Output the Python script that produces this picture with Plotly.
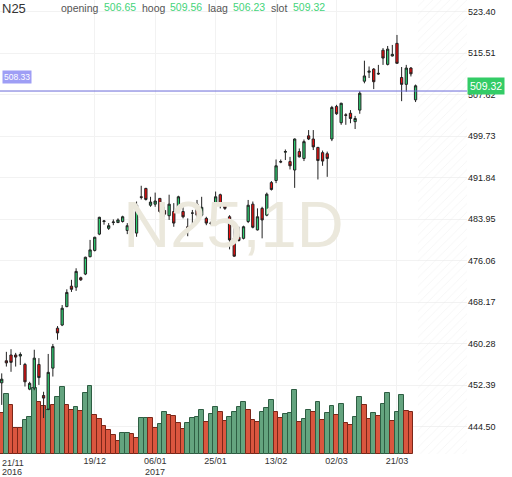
import plotly.graph_objects as go
import pandas as pd

symbol = "N25"
interval = "1D"

opens = [452.8, 457.0, 458.1, 458.1, 457.9, 456.3, 451.6, 451.8, 456.3, 450.4,
         447.8, 455.6, 463.2, 463.8, 467.3, 471.2, 471.0, 472.8, 473.5, 476.8,
         478.0, 481.1, 483.5, 482.2, 483.3, 483.3, 483.5, 481.8, 482.4, 481.3,
         488.2, 489.8, 486.6, 486.8, 487.9, 485.6, 484.6, 485.4, 485.8, 485.4,
         482.5, 485.1, 486.8, 484.7, 484.1, 483.25, 486.6, 488.6, 486.6, 484.4,
         480.3, 480.5, 480.3, 483.5, 486.8, 481.9, 486.0, 484.7, 490.9, 491.3,
         494.8, 496.7, 494.9, 493.3, 496.8, 495.5, 499.8, 499.2, 497.6, 496.6,
         496.4, 499.2, 505.4, 502.3, 503.8, 504.1, 502.5, 504.7, 510.2, 511.9,
         512.5, 511.7, 516.1, 513.4, 515.0, 517.4, 510.9, 509.6, 512.7, 506.65]
highs = [454.6, 458.7, 459.2, 458.5, 458.6, 456.6, 453.0, 459.1, 457.5, 451.1,
         458.3, 460.2, 463.6, 467.6, 470.6, 472.4, 474.6, 473.0, 476.8, 480.0,
         480.6, 484.4, 483.8, 483.2, 483.9, 484.1, 484.6, 483.2, 483.8, 487.3,
         490.3, 489.9, 488.2, 489.0, 487.9, 486.3, 488.6, 487.0, 488.4, 486.3,
         484.1, 485.7, 487.6, 488.2, 484.4, 483.5, 489.2, 488.8, 487.0, 484.7,
         483.0, 482.5, 482.7, 487.6, 487.3, 486.0, 486.3, 489.0, 491.2, 495.3,
         495.3, 497.2, 495.8, 499.3, 497.4, 499.1, 500.9, 500.9, 497.7, 497.0,
         496.8, 505.5, 505.7, 506.1, 504.1, 504.7, 503.6, 508.3, 514.1, 513.0,
         512.7, 513.3, 516.5, 516.9, 517.1, 519.0, 512.9, 513.3, 512.9, 509.56]
lows = [448.6, 455.9, 454.9, 455.9, 456.2, 452.1, 451.4, 451.4, 452.4, 446.1,
        447.6, 454.0, 461.0, 463.6, 467.2, 470.1, 470.3, 472.2, 473.3, 476.7,
        477.8, 480.9, 482.9, 481.9, 482.8, 483.2, 483.3, 481.1, 480.7, 480.6,
        487.7, 487.5, 486.3, 486.3, 485.1, 484.4, 483.8, 482.5, 485.7, 484.1,
        480.7, 482.2, 483.2, 484.4, 482.8, 482.9, 486.5, 486.0, 485.7, 478.2,
        476.8, 479.7, 480.1, 483.2, 482.2, 481.8, 480.3, 484.5, 489.4, 490.8,
        494.6, 495.2, 493.4, 489.9, 495.7, 495.0, 499.0, 497.1, 491.5, 494.1,
        492.0, 498.8, 503.8, 501.9, 501.9, 502.2, 501.1, 504.0, 509.8, 510.8,
        508.7, 511.4, 513.3, 513.2, 514.9, 513.6, 506.4, 508.2, 511.1, 506.23]
closes = [453.5, 456.6, 456.7, 457.7, 458.2, 453.0, 452.7, 457.5, 453.8, 449.9,
          454.8, 459.7, 462.3, 467.0, 470.0, 470.6, 474.0, 472.4, 476.7, 478.1,
          480.5, 484.3, 483.6, 482.7, 483.4, 483.8, 484.4, 482.7, 483.5, 486.6,
          488.1, 487.7, 487.2, 487.4, 485.4, 484.9, 486.8, 483.2, 488.2, 484.4,
          482.0, 485.1, 484.7, 486.2, 483.2, 483.1, 488.2, 486.6, 486.0, 480.0,
          476.9, 479.9, 482.5, 486.6, 482.4, 484.4, 483.8, 488.7, 489.6, 494.1,
          494.9, 496.8, 494.1, 499.2, 495.8, 498.7, 499.2, 497.7, 495.1, 495.0,
          495.5, 505.2, 504.0, 506.0, 503.7, 503.1, 503.1, 507.9, 511.2, 512.1,
          510.1, 511.6, 514.6, 516.3, 515.3, 513.6, 509.6, 512.7, 511.6, 509.32]
volumes = [40.7, 60.0, 49.0, 26.3, 26.3, 34.0, 37.3, 66.3, 52.3, 48.0,
           44.0, 49.0, 56.7, 66.7, 49.0, 44.0, 47.3, 43.0, 60.7, 68.3,
           39.0, 34.7, 28.0, 24.0, 19.0, 13.0, 20.7, 20.7, 19.7, 16.3,
           35.7, 36.3, 36.3, 25.7, 29.7, 41.7, 39.0, 38.0, 30.7, 25.0,
           30.7, 35.7, 36.7, 44.0, 32.3, 39.7, 46.7, 42.3, 33.0, 36.7,
           41.7, 46.7, 52.3, 44.0, 34.0, 32.0, 42.3, 45.7, 54.0, 41.7,
           35.7, 39.7, 40.7, 64.0, 32.3, 34.7, 44.0, 42.3, 52.3, 34.0,
           40.7, 48.0, 39.0, 50.0, 30.7, 29.0, 37.3, 56.7, 49.0, 34.7,
           40.7, 38.0, 50.0, 60.7, 33.0, 42.3, 59.0, 43.3, 41.7, None]
vol_up = [0, 1, 0, 0, 0, 1, 1, 1, 0, 0,
          1, 0, 1, 1, 0, 0, 1, 0, 1, 1,
          0, 0, 0, 0, 0, 0, 1, 1, 0, 0,
          1, 1, 0, 0, 1, 1, 0, 0, 0, 0,
          1, 1, 1, 1, 0, 1, 1, 0, 0, 1,
          1, 1, 1, 0, 0, 0, 1, 1, 1, 0,
          0, 1, 1, 1, 0, 1, 1, 0, 1, 0,
          1, 1, 0, 1, 0, 0, 1, 1, 0, 0,
          1, 0, 1, 1, 0, 1, 1, 0, 0, 0]
price_ticks = [444.50, 452.39, 460.28, 468.17, 476.06, 483.95,
               491.84, 499.73, 507.62, 515.51, 523.40]
ref_level = 508.33
holidays = ["2016-12-26"]

# trading dates
all_days = pd.bdate_range("2016-11-21", "2017-03-27")
dates = [d for d in all_days if d.strftime("%Y-%m-%d") not in holidays]
n = len(closes)
xs = list(range(n))

tick_idx = list(range(20, n, 13))
tick_txt = [dates[i].strftime("%d/%m") for i in tick_idx]
# year marks: first date and the first tick in each new year
year_marks = [(0, dates[0].year)]
prev_year = dates[0].year
for i in tick_idx:
    if dates[i].year != prev_year:
        year_marks.append((i, dates[i].year))
        prev_year = dates[i].year

FONT = "Liberation Sans, Arial, sans-serif"
GREEN = "#2ecc71"
RED = "#f20d0d"
x_range = [-0.37, n + 10.06]
y_range = [439.26, 525.65]
vol_range = [0, 454]

fig = go.Figure()

# volume (base axis, below)
fig.add_trace(go.Bar(
    x=xs, y=volumes, yaxis="y",
    marker=dict(color=["#64a47f" if u else "#da563f" for u in vol_up],
                line=dict(color=["#2e5e43" if u else "#7b2719" for u in vol_up], width=1)),
    showlegend=False, hoverinfo="skip"))

# hatched future area
fx0 = n - 0.5
fig.add_trace(go.Scatter(
    x=[fx0, x_range[1], x_range[1], fx0, fx0],
    y=[y_range[0], y_range[0], y_range[1], y_range[1], y_range[0]],
    yaxis="y2", mode="lines", line=dict(width=0), fill="toself",
    fillcolor="rgba(255,255,255,0)",
    fillpattern=dict(shape="/", fgcolor="#e6e6e6", size=6, solidity=0.12),
    showlegend=False, hoverinfo="skip"))

# watermark
fig.add_trace(go.Scatter(
    x=[sum(x_range) / 2], y=[sum(y_range) / 2 - 0.7], yaxis="y2",
    mode="text", text=[f"{symbol},{interval}"],
    textfont=dict(family=FONT, size=65, color="#ebe8dc"),
    showlegend=False, hoverinfo="skip"))

fig.add_trace(go.Candlestick(
    x=xs, open=opens, high=highs, low=lows, close=closes, yaxis="y2",
    increasing=dict(fillcolor=GREEN, line=dict(color="#222222", width=1)),
    decreasing=dict(fillcolor=RED, line=dict(color="#222222", width=1)),
    whiskerwidth=0, showlegend=False, hoverinfo="skip"))

fig.add_shape(type="line", xref="paper", x0=0, x1=1, yref="y2",
              y0=ref_level, y1=ref_level, line=dict(color="#6a6ad8", width=1))

ann = []
ann.append(dict(x=0, y=ref_level, xref="paper", yref="y2", xanchor="left",
                yanchor="middle", yshift=14, xshift=2, text=f"{ref_level:.2f}",
                showarrow=False, bgcolor="#9e9ef5", borderpad=1,
                font=dict(family=FONT, size=8.5, color="white")))
ann.append(dict(x=1, y=closes[-1], xref="paper", yref="y2", xanchor="left",
                yanchor="middle", xshift=0, text=f"{closes[-1]:.2f}",
                showarrow=False, bgcolor="#33cc66", borderpad=2,
                font=dict(family=FONT, size=10.5, color="white")))
ann.append(dict(x=0, y=0, xref="paper", yref="paper", xanchor="left",
                yanchor="top", yshift=-1.5, xshift=0,
                text=dates[0].strftime("%d/%m"),
                showarrow=False, font=dict(family=FONT, size=9, color="#333")))
for i, yr in year_marks:
    if i == 0:
        ann.append(dict(x=0, y=0, xref="paper", yref="paper", xanchor="left",
                        yanchor="top", yshift=-10.5, text=str(yr), showarrow=False,
                        font=dict(family=FONT, size=9, color="#333")))
    else:
        ann.append(dict(x=i, y=0, xref="x", yref="paper", xanchor="center",
                        yanchor="top", yshift=-10.5, text=str(yr), showarrow=False,
                        font=dict(family=FONT, size=9, color="#333")))

W = 467.0
ann.append(dict(x=0, y=1, xref="paper", yref="paper", xanchor="left",
                yanchor="top", yshift=1, text=symbol, showarrow=False,
                font=dict(family=FONT, size=13, color="#333")))
header = [("opening", opens[-1]), ("hoog", highs[-1]),
          ("laag", lows[-1]), ("slot", closes[-1])]
hx = [59, 140, 206, 269]
vx = [102, 168, 231, 291]
for (lab, val), a, b in zip(header, hx, vx):
    ann.append(dict(x=a / W, y=1, xref="paper", yref="paper", xanchor="left",
                    yanchor="top", yshift=0, text=lab, showarrow=False,
                    font=dict(family=FONT, size=10.5, color="#555")))
    ann.append(dict(x=b / W, y=1, xref="paper", yref="paper", xanchor="left",
                    yanchor="top", yshift=1, text=f"{val:.2f}", showarrow=False,
                    font=dict(family=FONT, size=10.5, color="#44d47a")))

fig.update_layout(
    width=512, height=477,
    margin=dict(l=0, r=45, t=0, b=23),
    paper_bgcolor="white", plot_bgcolor="white",
    bargap=0,
    showlegend=False,
    annotations=ann,
    xaxis=dict(range=x_range, tickmode="array", tickvals=tick_idx, ticktext=tick_txt,
               showgrid=True, gridcolor="#f2f2f2", zeroline=False, showline=False,
               ticks="", tickfont=dict(family=FONT, size=9, color="#333"),
               rangeslider=dict(visible=False), fixedrange=True),
    yaxis=dict(range=vol_range, visible=False, showgrid=False, fixedrange=True),
    yaxis2=dict(range=y_range, overlaying="y", side="right", tickmode="array",
                tickvals=price_ticks, ticktext=[f"{v:.2f}" for v in price_ticks],
                showgrid=True, gridcolor="#f2f2f2", zeroline=False, showline=False,
                ticks="", tickfont=dict(family=FONT, size=9, color="#222"),
                fixedrange=True),
)

fig.write_html("out.html", config={"displayModeBar": False},
               post_script="document.body.style.margin='0';document.body.style.overflow='hidden';")
